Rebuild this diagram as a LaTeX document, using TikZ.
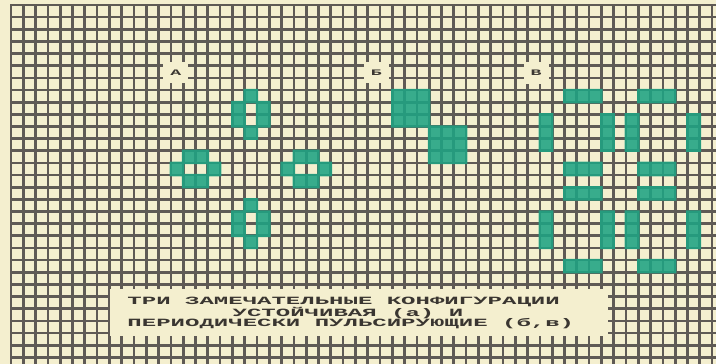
\documentclass[tikz,border=0pt]{standalone}
\usepackage{fontspec}
\usepackage{tikz}
\newfontfamily\typefont[FakeStretch=2.17]{Liberation Mono}
\definecolor{paper}{HTML}{F4EFCF}
\definecolor{rule}{HTML}{5F5A55}
\definecolor{cellon}{HTML}{1FA383}
\definecolor{ink}{HTML}{3A3631}

\begin{document}
\begin{tikzpicture}[
  x=9.225pt, y=-9.1125pt,
  gridline/.style={draw=rule, line width=2pt, line cap=rect},
  alive/.style={fill=cellon, fill opacity=0.88},
  tag/.style={font=\typefont\bfseries\fontsize{6.3}{6.3}\selectfont, text=ink, fill=paper, inner sep=0pt, minimum width=19pt, minimum height=16pt},
  capline/.style={font=\typefont\bfseries\fontsize{8.3}{8.3}\selectfont, text=ink, inner sep=0pt, anchor=base west}]
% ---------------- paper and grid
\fill[paper] (-0.894,-0.41) rectangle (57.32,29.55);
\useasboundingbox (-0.894,-0.41) rectangle (57.32,29.55);
\foreach \i in {0,...,57} \draw[gridline] (\i,0) -- (\i,29.55);
\foreach \j in {0,...,29} \draw[gridline] (0,\j) -- (57.32,\j);
% ---------------- (a) four beehives
\foreach \bx/\by in {18/7,18/16}
  \fill[alive] \foreach \cx/\cy in {1/0,0/1,2/1,0/2,2/2,1/3} {(\bx+\cx-.1,\by+\cy-.1) rectangle (\bx+\cx+1.1,\by+\cy+1.1)};
\foreach \bx/\by in {13/12,22/12}
  \fill[alive] \foreach \cx/\cy in {1/0,2/0,0/1,3/1,1/2,2/2} {(\bx+\cx-.1,\by+\cy-.1) rectangle (\bx+\cx+1.1,\by+\cy+1.1)};
% ---------------- (b) two blocks
\fill[alive] (30.9,6.9) rectangle (34.1,10.1) (33.9,9.9) rectangle (37.1,13.1);
% ---------------- (c) bars
\foreach \cx in {45,51}
  \fill[alive] \foreach \cy in {7,13,15,21} {(\cx-.1,\cy-.1) rectangle (\cx+3.1,\cy+1.1)};
\foreach \cx in {43,48,50,55}
  \fill[alive] \foreach \cy in {9,17} {(\cx-.1,\cy-.1) rectangle (\cx+1.1,\cy+3.1)};
% ---------------- labels
\node[tag] (labA) at (13.4,5.55) {А};
\node[tag] (labB) at (29.7,5.55) {Б};
\node[tag] (labC) at (42.7,5.6) {В};
% ---------------- caption
\fill[paper] (8.05,23.35) rectangle (48.55,27.25);
\node[capline] (cap1) at (9.45,24.69) {ТРИ ЗАМЕЧАТЕЛЬНЫЕ КОНФИГУРАЦИИ};
\node[capline] (cap2) at (18.0,25.65) {УСТОЙЧИВАЯ (а) И};
\node[capline] (cap3) at (9.45,26.48) {ПЕРИОДИЧЕСКИ ПУЛЬСИРУЮЩИЕ (б,в)};
\end{tikzpicture}
\end{document}
